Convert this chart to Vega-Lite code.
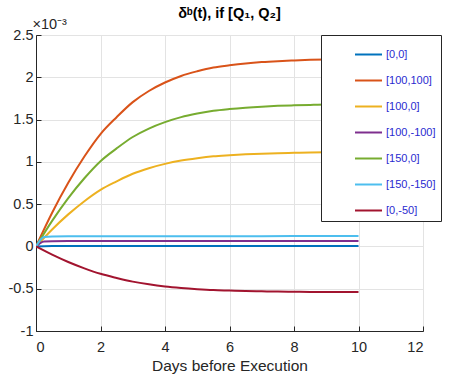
{
  "$schema": "https://vega.github.io/schema/vega-lite/v6.json",
  "width": 387,
  "height": 296,
  "autosize": "none",
  "padding": {"left": 36, "top": 35, "right": 38, "bottom": 50},
  "background": "white",
  "title": {
    "text": "δᵇ(t), if [Q₁, Q₂]",
    "font": "Liberation Sans",
    "fontSize": 14.5,
    "fontWeight": "bold",
    "color": "#000000",
    "anchor": "middle",
    "offset": -5
  },
  "data": {
    "values": [
      {"series": "[0,0]", "day": 0, "delta": 0},
      {"series": "[0,0]", "day": 0.25, "delta": 0.000003},
      {"series": "[0,0]", "day": 0.5, "delta": 0.000004},
      {"series": "[0,0]", "day": 1, "delta": 0.000004},
      {"series": "[0,0]", "day": 2, "delta": 0.000004},
      {"series": "[0,0]", "day": 4, "delta": 0.000004},
      {"series": "[0,0]", "day": 6, "delta": 0.000004},
      {"series": "[0,0]", "day": 8, "delta": 0.000004},
      {"series": "[0,0]", "day": 10, "delta": 0.000004},

      {"series": "[100,100]", "day": 0, "delta": 0},
      {"series": "[100,100]", "day": 0.5, "delta": 0.000399},
      {"series": "[100,100]", "day": 1, "delta": 0.000753},
      {"series": "[100,100]", "day": 1.5, "delta": 0.001063},
      {"series": "[100,100]", "day": 2, "delta": 0.001329},
      {"series": "[100,100]", "day": 2.5, "delta": 0.001528},
      {"series": "[100,100]", "day": 3, "delta": 0.001706},
      {"series": "[100,100]", "day": 3.5, "delta": 0.001838},
      {"series": "[100,100]", "day": 4, "delta": 0.001938},
      {"series": "[100,100]", "day": 4.5, "delta": 0.002016},
      {"series": "[100,100]", "day": 5, "delta": 0.002071},
      {"series": "[100,100]", "day": 5.5, "delta": 0.002115},
      {"series": "[100,100]", "day": 6, "delta": 0.002142},
      {"series": "[100,100]", "day": 6.5, "delta": 0.002164},
      {"series": "[100,100]", "day": 7, "delta": 0.00218},
      {"series": "[100,100]", "day": 7.5, "delta": 0.002191},
      {"series": "[100,100]", "day": 8, "delta": 0.002199},
      {"series": "[100,100]", "day": 8.5, "delta": 0.002206},
      {"series": "[100,100]", "day": 9, "delta": 0.002211},
      {"series": "[100,100]", "day": 9.5, "delta": 0.002213},
      {"series": "[100,100]", "day": 10, "delta": 0.002215},

      {"series": "[100,0]", "day": 0, "delta": 0},
      {"series": "[100,0]", "day": 0.5, "delta": 0.000201},
      {"series": "[100,0]", "day": 1, "delta": 0.000379},
      {"series": "[100,0]", "day": 1.5, "delta": 0.000535},
      {"series": "[100,0]", "day": 2, "delta": 0.000669},
      {"series": "[100,0]", "day": 2.5, "delta": 0.000769},
      {"series": "[100,0]", "day": 3, "delta": 0.000859},
      {"series": "[100,0]", "day": 3.5, "delta": 0.000925},
      {"series": "[100,0]", "day": 4, "delta": 0.000976},
      {"series": "[100,0]", "day": 4.5, "delta": 0.001015},
      {"series": "[100,0]", "day": 5, "delta": 0.001043},
      {"series": "[100,0]", "day": 5.5, "delta": 0.001065},
      {"series": "[100,0]", "day": 6, "delta": 0.001078},
      {"series": "[100,0]", "day": 6.5, "delta": 0.001089},
      {"series": "[100,0]", "day": 7, "delta": 0.001097},
      {"series": "[100,0]", "day": 7.5, "delta": 0.001103},
      {"series": "[100,0]", "day": 8, "delta": 0.001107},
      {"series": "[100,0]", "day": 8.5, "delta": 0.001111},
      {"series": "[100,0]", "day": 9, "delta": 0.001113},
      {"series": "[100,0]", "day": 9.5, "delta": 0.001114},
      {"series": "[100,0]", "day": 10, "delta": 0.001115},

      {"series": "[100,-100]", "day": 0, "delta": 0},
      {"series": "[100,-100]", "day": 0.25, "delta": 0.000058},
      {"series": "[100,-100]", "day": 0.5, "delta": 0.000062},
      {"series": "[100,-100]", "day": 1, "delta": 0.000063},
      {"series": "[100,-100]", "day": 2, "delta": 0.000063},
      {"series": "[100,-100]", "day": 4, "delta": 0.000064},
      {"series": "[100,-100]", "day": 6, "delta": 0.000064},
      {"series": "[100,-100]", "day": 8, "delta": 0.000065},
      {"series": "[100,-100]", "day": 10, "delta": 0.000065},

      {"series": "[150,0]", "day": 0, "delta": 0},
      {"series": "[150,0]", "day": 0.5, "delta": 0.000302},
      {"series": "[150,0]", "day": 1, "delta": 0.000571},
      {"series": "[150,0]", "day": 1.5, "delta": 0.000806},
      {"series": "[150,0]", "day": 2, "delta": 0.001008},
      {"series": "[150,0]", "day": 2.5, "delta": 0.001159},
      {"series": "[150,0]", "day": 3, "delta": 0.001294},
      {"series": "[150,0]", "day": 3.5, "delta": 0.001394},
      {"series": "[150,0]", "day": 4, "delta": 0.00147},
      {"series": "[150,0]", "day": 4.5, "delta": 0.001529},
      {"series": "[150,0]", "day": 5, "delta": 0.001571},
      {"series": "[150,0]", "day": 5.5, "delta": 0.001604},
      {"series": "[150,0]", "day": 6, "delta": 0.001625},
      {"series": "[150,0]", "day": 6.5, "delta": 0.001641},
      {"series": "[150,0]", "day": 7, "delta": 0.001653},
      {"series": "[150,0]", "day": 7.5, "delta": 0.001662},
      {"series": "[150,0]", "day": 8, "delta": 0.001668},
      {"series": "[150,0]", "day": 8.5, "delta": 0.001673},
      {"series": "[150,0]", "day": 9, "delta": 0.001677},
      {"series": "[150,0]", "day": 9.5, "delta": 0.001678},
      {"series": "[150,0]", "day": 10, "delta": 0.00168},

      {"series": "[150,-150]", "day": 0, "delta": 0},
      {"series": "[150,-150]", "day": 0.25, "delta": 0.000112},
      {"series": "[150,-150]", "day": 0.5, "delta": 0.000118},
      {"series": "[150,-150]", "day": 1, "delta": 0.00012},
      {"series": "[150,-150]", "day": 2, "delta": 0.00012},
      {"series": "[150,-150]", "day": 4, "delta": 0.000121},
      {"series": "[150,-150]", "day": 6, "delta": 0.000121},
      {"series": "[150,-150]", "day": 8, "delta": 0.000122},
      {"series": "[150,-150]", "day": 10, "delta": 0.000122},

      {"series": "[0,-50]", "day": 0, "delta": 0},
      {"series": "[0,-50]", "day": 0.5, "delta": -0.000097},
      {"series": "[0,-50]", "day": 1, "delta": -0.000184},
      {"series": "[0,-50]", "day": 1.5, "delta": -0.000259},
      {"series": "[0,-50]", "day": 2, "delta": -0.000324},
      {"series": "[0,-50]", "day": 2.5, "delta": -0.000373},
      {"series": "[0,-50]", "day": 3, "delta": -0.000416},
      {"series": "[0,-50]", "day": 3.5, "delta": -0.000448},
      {"series": "[0,-50]", "day": 4, "delta": -0.000473},
      {"series": "[0,-50]", "day": 4.5, "delta": -0.000491},
      {"series": "[0,-50]", "day": 5, "delta": -0.000505},
      {"series": "[0,-50]", "day": 5.5, "delta": -0.000516},
      {"series": "[0,-50]", "day": 6, "delta": -0.000522},
      {"series": "[0,-50]", "day": 6.5, "delta": -0.000528},
      {"series": "[0,-50]", "day": 7, "delta": -0.000531},
      {"series": "[0,-50]", "day": 7.5, "delta": -0.000534},
      {"series": "[0,-50]", "day": 8, "delta": -0.000536},
      {"series": "[0,-50]", "day": 8.5, "delta": -0.000538},
      {"series": "[0,-50]", "day": 9, "delta": -0.000539},
      {"series": "[0,-50]", "day": 9.5, "delta": -0.000539},
      {"series": "[0,-50]", "day": 10, "delta": -0.00054}
    ]
  },
  "mark": {"type": "line", "strokeWidth": 2, "interpolate": "monotone", "clip": true},
  "encoding": {
    "x": {
      "field": "day",
      "type": "quantitative",
      "scale": {"domain": [0, 12], "nice": false},
      "axis": {
        "values": [0, 2, 4, 6, 8, 10, 12],
        "title": "Days before Execution",
        "titleFontSize": 15.5,
        "labelPadding": 14,
        "titlePadding": 5
      }
    },
    "y": {
      "field": "delta",
      "type": "quantitative",
      "scale": {"domain": [-0.001, 0.0025], "nice": false, "zero": false},
      "axis": {
        "values": [-0.001, -0.0005, 0, 0.0005, 0.001, 0.0015, 0.002, 0.0025],
        "labelExpr": "'' + round(datum.value * 10000) / 10",
        "labelPadding": 8,
        "title": "×10⁻³",
        "titleAngle": 0,
        "titleAlign": "left",
        "titleBaseline": "alphabetic",
        "titleX": -4,
        "titleY": -7,
        "titleFontSize": 14.5
      }
    },
    "color": {
      "field": "series",
      "type": "nominal",
      "sort": null,
      "scale": {
        "domain": ["[0,0]", "[100,100]", "[100,0]", "[100,-100]", "[150,0]", "[150,-150]", "[0,-50]"],
        "range": ["#0072BD", "#D95319", "#EDB120", "#7E2F8E", "#77AC30", "#4DBEEE", "#A2142F"]
      },
      "legend": {
        "title": null,
        "orient": "none",
        "legendX": 285,
        "legendY": 0,
        "symbolType": "stroke",
        "symbolSize": 729,
        "symbolStrokeWidth": 2,
        "symbolOffset": 28,
        "labelOffset": 3,
        "labelFont": "Liberation Sans",
        "labelFontSize": 11,
        "labelColor": "#2a2ad0",
        "labelExpr": "datum.label + '\u00a0\u00a0\u00a0\u00a0\u00a0\u00a0\u00a0\u00a0'",
        "fillColor": "white",
        "strokeColor": "#262626",
        "padding": 5,
        "rowPadding": 6
      }
    }
  },
  "config": {
    "view": {"stroke": "#262626", "strokeWidth": 1},
    "axis": {
      "domainColor": "#262626",
      "tickColor": "#262626",
      "tickSize": -5,
      "labelColor": "#262626",
      "titleColor": "#262626",
      "labelFont": "Liberation Sans",
      "titleFont": "Liberation Sans",
      "labelFontSize": 14.5,
      "titleFontSize": 14,
      "titleFontWeight": "normal",
      "gridColor": "#e3e3e3",
      "gridOpacity": 1
    }
  }
}
